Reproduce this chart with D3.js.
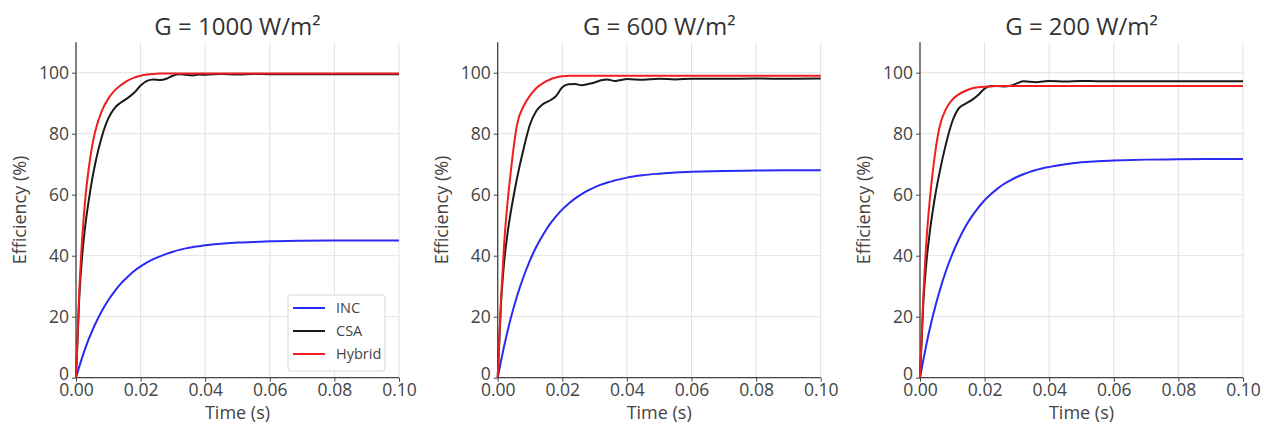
<!DOCTYPE html>
<html>
<head>
<meta charset="utf-8">
<script src="https://cdn.jsdelivr.net/npm/d3@7"></script>
<style>
  body { margin: 0; background: #fff; }
  svg { display: block; font-family: "Open Sans", "Noto Sans", "DejaVu Sans", sans-serif; }
</style>
</head>
<body>
<svg id="chart" width="1272" height="428"></svg>
<script>
// ---- data ----
const time = [0, 0.001, 0.002, 0.003, 0.004, 0.005, 0.006, 0.008, 0.010, 0.012, 0.014, 0.016, 0.018, 0.020,
  0.022, 0.024, 0.026, 0.028, 0.030, 0.032, 0.034, 0.036, 0.038, 0.040, 0.045, 0.050, 0.055, 0.060,
  0.070, 0.080, 0.090, 0.100];

const panelTitles = ["G = 1000 W/m\u00B2", "G = 600 W/m\u00B2", "G = 200 W/m\u00B2"];
const seriesNames = ["INC", "CSA", "Hybrid"];

const inc1000 = [0, 3.6, 6.9, 10.0, 12.8, 15.3, 17.7, 21.9, 25.4, 28.4, 31.0, 33.1, 35.0, 36.5,
  37.8, 38.9, 39.8, 40.6, 41.3, 41.9, 42.4, 42.8, 43.1, 43.4, 43.9, 44.3, 44.5, 44.7, 44.9, 45.0, 45.0, 45.0];
const csa1000 = [0, 26, 41, 51, 58.5, 65, 70.5, 79, 85, 88.5, 90.3, 91.7, 93.4, 95.8,
  97.3, 97.8, 97.6, 98.0, 99.0, 99.5, 99.3, 99.1, 99.4, 99.3, 99.6, 99.4, 99.6, 99.5, 99.5, 99.5, 99.5, 99.5];
const hyb1000 = [0, 28, 47, 60, 69, 76, 81, 87.5, 91.5, 94.2, 96.0, 97.4, 98.4, 99.0,
  99.4, 99.6, 99.7, 99.7, 99.7, 99.7, 99.7, 99.7, 99.7, 99.7, 99.7, 99.7, 99.7, 99.7, 99.7, 99.7, 99.7, 99.7];

const inc600 = [0, 5.4, 10.4, 15.0, 19.3, 23.2, 26.8, 33.1, 38.5, 43.0, 46.8, 50.1, 52.8, 55.2,
  57.1, 58.8, 60.2, 61.4, 62.4, 63.3, 64.0, 64.6, 65.1, 65.6, 66.4, 66.9, 67.3, 67.5, 67.8, 67.9, 68.0, 68.0];
const csa600 = [0, 24, 38, 47, 54, 60, 65.5, 75, 83, 87.5, 89.7, 90.8, 92.3, 95.2,
  96.2, 96.3, 95.9, 96.3, 96.8, 97.5, 97.8, 97.3, 97.6, 97.9, 97.7, 98.0, 97.8, 98.0, 98.0, 98.1, 98.0, 98.1];
const hyb600 = [0, 25, 44, 57, 67, 76, 83, 89, 92.5, 95.0, 96.6, 97.7, 98.4, 98.8,
  99.0, 99.0, 99.0, 99.0, 99.0, 99.0, 99.0, 99.0, 99.0, 99.0, 99.0, 99.0, 99.0, 99.0, 99.0, 99.0, 99.0, 99.0];

const inc200 = [0, 5.7, 11.0, 15.9, 20.3, 24.4, 28.2, 34.9, 40.5, 45.3, 49.4, 52.8, 55.7, 58.2,
  60.2, 62.0, 63.5, 64.7, 65.8, 66.7, 67.5, 68.1, 68.7, 69.1, 70.0, 70.6, 71.0, 71.2, 71.5, 71.6, 71.7, 71.7];
const csa200 = [0, 24, 38, 47.5, 55, 61.5, 67, 76.5, 84, 88.3, 89.8, 91.0, 92.7, 94.8,
  95.6, 95.6, 95.5, 95.7, 96.5, 97.2, 97.0, 96.9, 97.1, 97.3, 97.1, 97.3, 97.2, 97.2, 97.2, 97.2, 97.2, 97.2];
const hyb200 = [0, 26, 45, 58, 68, 76, 82, 88, 91.2, 92.9, 94.0, 94.8, 95.2, 95.4,
  95.5, 95.6, 95.6, 95.6, 95.6, 95.6, 95.6, 95.6, 95.6, 95.6, 95.6, 95.6, 95.6, 95.6, 95.6, 95.6, 95.6, 95.6];

const xTicks = [0, 0.02, 0.04, 0.06, 0.08, 0.10];
const yTicks = [0, 20, 40, 60, 80, 100];

const panels = [
  { title: panelTitles[0], series: [inc1000, csa1000, hyb1000], legend: true },
  { title: panelTitles[1], series: [inc600, csa600, hyb600], legend: false },
  { title: panelTitles[2], series: [inc200, csa200, hyb200], legend: false }
];

// ---- layout / style ----
const colors = ["#2a2af2", "#1a1a1a", "#f01e1e"];
const drawOrder = [0, 1, 2];
const lefts = [76, 497.7, 920];
const pw = 323;
const plotTop = 42.2, plotBottom = 377.7;

const svg = d3.select("#chart");

panels.forEach((p, i) => {
  const x = d3.scaleLinear().domain([0, 0.10]).range([lefts[i], lefts[i] + pw]);
  const y = d3.scaleLinear().domain([0, 110]).range([plotBottom, plotTop]);
  const g = svg.append("g");

  // grid
  g.selectAll(".vg").data(xTicks).join("line")
    .attr("x1", d => x(d)).attr("x2", d => x(d))
    .attr("y1", plotTop).attr("y2", plotBottom)
    .attr("stroke", "#e3e3e3").attr("stroke-width", 1);
  g.selectAll(".hg").data(yTicks).join("line")
    .attr("x1", lefts[i]).attr("x2", lefts[i] + pw)
    .attr("y1", d => y(d)).attr("y2", d => y(d))
    .attr("stroke", "#e3e3e3").attr("stroke-width", 1);

  // axes
  const xAxis = d3.axisBottom(x).tickValues(xTicks).tickFormat(d3.format(".2f")).tickSize(4).tickPadding(2);
  const yAxis = d3.axisLeft(y).tickValues(yTicks).tickFormat(d3.format("d")).tickSize(4).tickPadding(3);
  const gx = g.append("g").attr("transform", `translate(0,${plotBottom})`).call(xAxis);
  const gy = g.append("g").attr("transform", `translate(${lefts[i]},0)`).call(yAxis);
  [gx, gy].forEach(a => {
    a.select(".domain").attr("stroke", "#444").attr("stroke-width", 1.3);
    a.selectAll(".tick line").attr("stroke", "#444");
    a.selectAll(".tick text").attr("fill", "#444").style("font-size", "17.5px")
      .style("font-family", "'Open Sans', 'Noto Sans', sans-serif");
  });
  gy.select(".domain").attr("d", `M0,${plotBottom}V${plotTop}`);
  gx.select(".domain").attr("d", `M${lefts[i]},0H${lefts[i] + pw}`);
  gy.selectAll(".tick text").filter(d => d === 0).attr("dy", "0.1em");

  // lines
  const line = d3.line().x((d, k) => x(time[k])).y(d => y(d)).curve(d3.curveMonotoneX);
  drawOrder.forEach(s => {
    g.append("path").datum(p.series[s])
      .attr("d", line)
      .attr("fill", "none")
      .attr("stroke", colors[s])
      .attr("stroke-width", 2)
      .attr("stroke-linejoin", "round");
  });

  // title
  g.append("text").attr("x", lefts[i] + pw / 2).attr("y", 35)
    .attr("text-anchor", "middle").attr("fill", "#333")
    .style("font-size", "24px").text(p.title);

  // axis labels
  g.append("text").attr("x", lefts[i] + pw / 2).attr("y", 419)
    .attr("text-anchor", "middle").attr("fill", "#444")
    .style("font-size", "18px").text("Time (s)");
  g.append("text")
    .attr("transform", `translate(${lefts[i] - 50},${(plotTop + plotBottom) / 2}) rotate(-90)`)
    .attr("text-anchor", "middle").attr("fill", "#444")
    .style("font-size", "18px").text("Efficiency (%)");

  // legend
  if (p.legend) {
    const lx = lefts[i] + 212, ly = 295;
    const lg = g.append("g");
    lg.append("rect").attr("x", lx).attr("y", ly).attr("width", 97).attr("height", 76)
      .attr("rx", 3).attr("fill", "#fff").attr("fill-opacity", 0.85)
      .attr("stroke", "#d6d6d6").attr("stroke-width", 1);
    seriesNames.forEach((name, k) => {
      const yy = ly + 13 + k * 23;
      lg.append("line").attr("x1", lx + 5).attr("x2", lx + 37)
        .attr("y1", yy).attr("y2", yy)
        .attr("stroke", colors[k]).attr("stroke-width", 2);
      lg.append("text").attr("x", lx + 48).attr("y", yy).attr("dy", "0.35em")
        .attr("fill", "#444").style("font-size", "14.5px").text(name);
    });
  }
});
</script>
</body>
</html>
